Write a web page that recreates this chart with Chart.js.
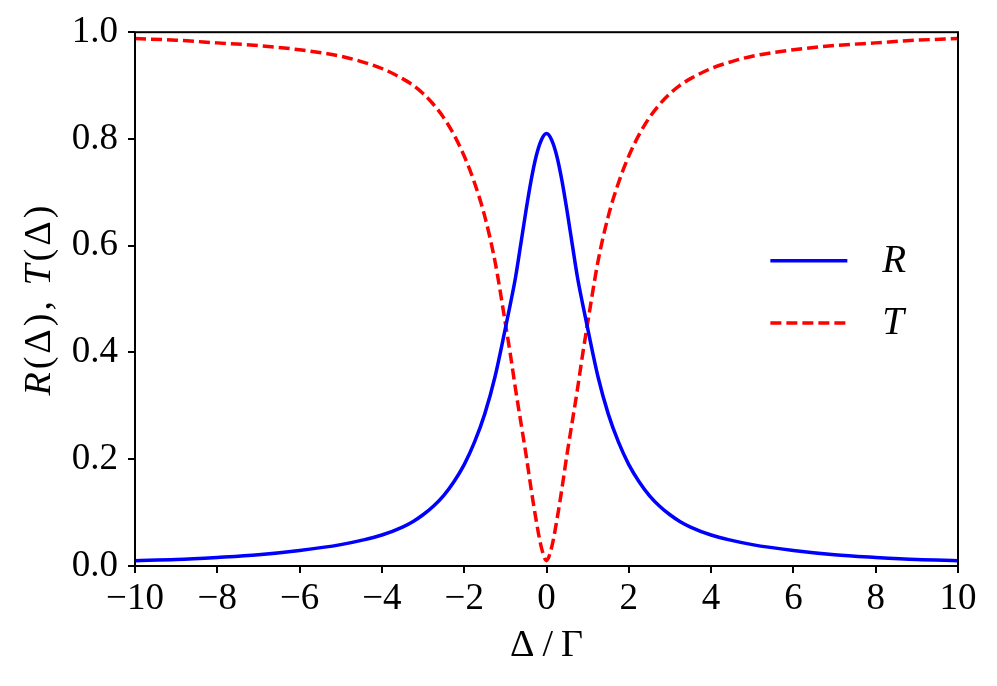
<!DOCTYPE html>
<html>
<head>
<meta charset="utf-8">
<script src="https://cdn.jsdelivr.net/npm/chart.js@4"></script>
<style>
  html, body { margin: 0; padding: 0; background: #fff; }
  #wrap { width: 997px; height: 686px; }
</style>
</head>
<body>
<div id="wrap"><canvas id="c" width="997" height="686"></canvas></div>
<script>
// Detuning grid (Δ/Γ)
const detuning = [-10, -9, -8, -7, -6, -5, -4.5, -4, -3.5, -3.25, -3, -2.75, -2.5, -2.25, -2, -1.75, -1.5, -1.25, -1, -0.875, -0.75, -0.625, -0.5, -0.375, -0.25, -0.125, 0,
                  0.125, 0.25, 0.375, 0.5, 0.625, 0.75, 0.875, 1, 1.25, 1.5, 1.75, 2, 2.25, 2.5, 2.75, 3, 3.25, 3.5, 4, 4.5, 5, 6, 7, 8, 9, 10];
// Reflection R(Δ)
const reflection = [0.010, 0.012, 0.016, 0.021, 0.029, 0.040, 0.048, 0.058, 0.073, 0.083, 0.096, 0.112, 0.132, 0.158, 0.190, 0.232, 0.285, 0.355, 0.445, 0.492, 0.542, 0.603, 0.665, 0.722, 0.768, 0.798, 0.810,
                    0.798, 0.768, 0.722, 0.665, 0.603, 0.542, 0.492, 0.445, 0.355, 0.285, 0.232, 0.190, 0.158, 0.132, 0.112, 0.096, 0.083, 0.073, 0.058, 0.048, 0.040, 0.029, 0.021, 0.016, 0.012, 0.010];
// Transmission T(Δ)
const transmission = [0.988, 0.985, 0.980, 0.975, 0.967, 0.955, 0.945, 0.932, 0.913, 0.901, 0.885, 0.865, 0.840, 0.808, 0.768, 0.718, 0.655, 0.570, 0.455, 0.395, 0.330, 0.270, 0.210, 0.145, 0.085, 0.035, 0.010,
                      0.035, 0.085, 0.145, 0.210, 0.270, 0.330, 0.395, 0.455, 0.570, 0.655, 0.718, 0.768, 0.808, 0.840, 0.865, 0.885, 0.901, 0.913, 0.932, 0.945, 0.955, 0.967, 0.975, 0.980, 0.985, 0.988];
const xTicks = [-10, -8, -6, -4, -2, 0, 2, 4, 6, 8, 10];
const yTicks = [0.0, 0.2, 0.4, 0.6, 0.8, 1.0];
const seriesLabels = ['R', 'T'];
const xTitle = 'Δ/Γ';
const yTitleParts = [['R', true], ['(Δ), ', false], ['T', true], ['(Δ)', false]];

const FONT = '"Liberation Serif", "DejaVu Serif", serif';
const FS = 37;

const toPts = (xs, ys) => xs.map((x, i) => ({x: x, y: ys[i]}));

const framePlugin = {
  id: 'frame',
  afterDraw(chart) {
    const {ctx, chartArea: a} = chart;
    ctx.save();
    ctx.strokeStyle = '#000';
    ctx.lineWidth = 2;
    ctx.strokeRect(a.left, a.top, a.right - a.left, a.bottom - a.top);

    // Legend (inside plot, right side)
    const ds = chart.data.datasets;
    const lx0 = a.left + (a.right - a.left) * 0.772;
    const lx1 = lx0 + 77;
    const ly = [a.top + (a.bottom - a.top) * 0.428, a.top + (a.bottom - a.top) * 0.545];
    ds.forEach((d, i) => {
      ctx.beginPath();
      ctx.strokeStyle = d.borderColor;
      ctx.lineWidth = d.borderWidth;
      ctx.setLineDash(d.borderDash || []);
      ctx.moveTo(lx0, ly[i]);
      ctx.lineTo(lx1, ly[i]);
      ctx.stroke();
      ctx.setLineDash([]);
      ctx.fillStyle = '#000';
      ctx.font = 'italic ' + (FS + 2) + 'px ' + FONT;
      ctx.textBaseline = 'middle';
      ctx.textAlign = 'left';
      ctx.fillText(d.label, lx1 + 35, ly[i] + 1);
    });

    // Y-axis title with mixed italics
    ctx.save();
    const cx = 40, cy = (a.top + a.bottom) / 2;
    ctx.translate(cx, cy);
    ctx.rotate(-Math.PI / 2);
    ctx.letterSpacing = '3px';
    let total = 0;
    const widths = yTitleParts.map(([t, it]) => {
      ctx.font = (it ? 'italic ' : '') + (FS + 1) + 'px ' + FONT;
      const w = ctx.measureText(t).width;
      total += w;
      return w;
    });
    let x = -total / 2;
    ctx.textBaseline = 'middle';
    ctx.textAlign = 'left';
    yTitleParts.forEach(([t, it], i) => {
      ctx.font = (it ? 'italic ' : '') + (FS + 1) + 'px ' + FONT;
      ctx.fillText(t, x, 0);
      x += widths[i];
    });
    ctx.restore();

    // X-axis title
    ctx.save();
    ctx.letterSpacing = '8px';
    ctx.font = (FS + 1) + 'px ' + FONT;
    ctx.textAlign = 'center';
    ctx.textBaseline = 'middle';
    ctx.fillStyle = '#000';
    ctx.fillText(xTitle, (a.left + a.right) / 2 + 4, 646);
    ctx.restore();
    ctx.restore();
  }
};

new Chart(document.getElementById('c'), {
  type: 'line',
  data: {
    datasets: [
      {
        label: seriesLabels[0],
        data: toPts(detuning, reflection),
        borderColor: '#0000ff',
        borderWidth: 3.5,
        pointRadius: 0,
        cubicInterpolationMode: 'monotone',
        fill: false
      },
      {
        label: seriesLabels[1],
        data: toPts(detuning, transmission),
        borderColor: '#ff0000',
        borderWidth: 3.5,
        borderDash: [11, 5],
        pointRadius: 0,
        cubicInterpolationMode: 'monotone',
        fill: false
      }
    ]
  },
  options: {
    responsive: false,
    animation: false,
    devicePixelRatio: 1,
    layout: { padding: { top: 31, right: 39, left: 0, bottom: 0 } },
    plugins: { legend: { display: false }, tooltip: { enabled: false } },
    scales: {
      x: {
        type: 'linear',
        min: -10, max: 10,
        afterBuildTicks: (s) => { s.ticks = xTicks.map(v => ({value: v})); },
        afterFit: (s) => { s.height = 120; },
        border: { display: false },
        grid: { display: true, drawOnChartArea: false, drawTicks: true, tickLength: 7, color: '#000', lineWidth: 2 },
        ticks: {
          color: '#000',
          font: { family: FONT, size: FS },
          padding: 4,
          maxRotation: 0,
          autoSkip: false,
          callback: (v) => (v < 0 ? '\u2212' + Math.abs(v) : String(v))
        }
      },
      y: {
        type: 'linear',
        min: 0, max: 1,
        afterBuildTicks: (s) => { s.ticks = yTicks.map(v => ({value: v})); },
        afterFit: (s) => { s.width = 135; },
        border: { display: false },
        grid: { display: true, drawOnChartArea: false, drawTicks: true, tickLength: 7, color: '#000', lineWidth: 2 },
        ticks: {
          color: '#000',
          font: { family: FONT, size: FS },
          padding: 10,
          autoSkip: false,
          callback: (v) => Number(v).toFixed(1)
        }
      }
    }
  },
  plugins: [framePlugin]
});
</script>
</body>
</html>
